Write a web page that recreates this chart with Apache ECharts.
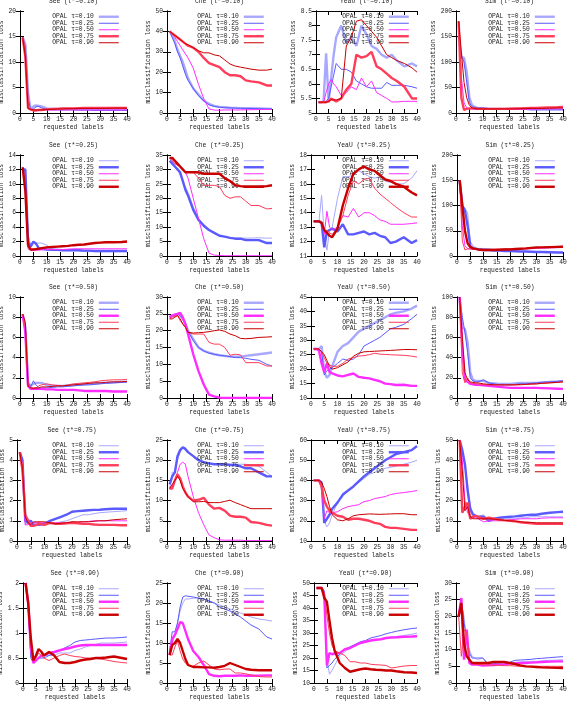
<!DOCTYPE html>
<html><head><meta charset="utf-8">
<script src="https://cdn.jsdelivr.net/npm/echarts@6/dist/echarts.min.js"></script>
<style>html,body{margin:0;padding:0;background:#fff}#c{width:568px;height:703px}</style>
</head><body><div id="c"></div>
<script>
// requested labels at which values were read
const X = [1,2,3,4,5,6,7,8,10,12,14,16,18,20,22,24,26,28,30,32,35,38,40];
const DATASETS = ['See','Che','YeaU','Sim'];
const TAUS = ['0.10','0.25','0.50','0.75','0.90'];
const X_RANGE = [0,40,5];
// y axis [min,max,interval] for each row (tau*) and column (dataset)
const Y_SEE  = [[0,20,5],[0,14,2],[0,10,2],[0,5,1],[0,2,0.5]];
const Y_CHE  = [[0,50,10],[0,35,5],[0,30,5],[0,25,5],[0,25,5]];
const Y_YEAU = [[5,8.5,0.5],[11,18,1],[10,45,5],[10,60,10],[10,50,5]];
const Y_SIM  = [[0,200,50],[0,200,50],[0,100,20],[0,50,10],[0,30,5]];

// ---- tau* = 0.10 ----  rows: OPAL tau = 0.10, 0.25, 0.50, 0.75, 0.90
const SEE_010 = [
 [14.8,13.5,4,0.6,1.3,1.5,1.4,1.3, 0.9,0.8,0.8,0.8,0.8,0.8, 0.8,0.8,0.8,0.8,0.8,0.8, 0.75,0.75,0.75],
 [14.8,13,3,0.6,0.8,1.2,1.3,1.0, 0.7,0.6,0.6,0.6,0.6,0.6, 0.55,0.55,0.55,0.5,0.5,0.5, 0.5,0.5,0.5],
 [14.8,11,1,0.6,0.6,0.6,0.6,0.6, 0.6,0.6,0.6,0.6,0.6,0.6, 0.6,0.6,0.6,0.6,0.6,0.6, 0.6,0.6,0.6],
 [14.8,11,1.0,0.7,0.5,0.5,0.6,0.6, 0.7,0.8,0.8,0.9,0.9,0.9, 0.95,1.0,1.0,1.0,1.0,1.0, 1.0,1.0,1.0],
 [14.8,11,0.9,0.7,0.6,0.6,0.6,0.6, 0.7,0.7,0.8,0.8,0.85,0.85, 0.9,0.9,0.9,0.9,0.9,0.9, 0.95,0.95,0.95]];
const CHE_010 = [
 [40,38,35,31,28,25,21,17, 12,9,6,4.5,3.5,3, 2.8,2.6,2.5,2.4,2.3,2.3, 2.2,2.1,2],
 [40,37,34,30,27,23,19,16, 12,8.5,6,4,3.2,2.8, 2.6,2.5,2.4,2.3,2.2,2.2, 2.1,2,2],
 [40,39,37,35,33,31,29,27, 22,14,7,2,1.4,1.4, 1.5,1.5,1.5,1.5,1.6,1.6, 1.7,1.7,1.8],
 [40,39,38,37,36,35,34,33, 32,30,27,24.5,23.5,22.5, 20,18.5,18.5,18,16,15.5, 15,13.5,13.5],
 [40,39,38,37,36,35,34,33.5, 32,30.5,29.5,29.5,28.5,28, 26,24,23,22.5,22,21.5, 21,21,21.5]];
const YEAU_010 = [
 [5.37,5.37,5.4,7.05,5.4,6.2,7.0,7.6, 8.0,7.4,7.6,7.3,8.0,7.7, 7.3,7.2,7.0,6.9,7.0,6.8, 6.6,6.7,6.6],
 [5.37,5.37,5.37,5.4,5.5,5.9,6.3,6.7, 6.5,6.5,6.4,6.1,6.0,5.9, 5.85,5.85,5.85,6.05,5.95,5.95, 5.95,5.9,5.85],
 [5.37,5.37,5.37,5.7,6.0,6.15,6.0,5.9, 5.6,5.7,5.9,5.8,6.2,5.9, 6.1,5.7,5.6,5.5,5.38,5.38, 5.4,5.4,5.4],
 [5.37,5.37,5.37,5.37,5.4,5.5,5.45,5.4, 5.5,5.8,6.0,7.0,6.9,6.95, 7.1,6.6,6.5,6.35,6.2,6.1, 5.9,5.5,5.5],
 [5.37,5.37,5.37,5.37,5.4,5.45,5.45,5.45, 5.5,7.3,7.6,8.15,8.2,8.0, 7.8,7.6,7.3,7.0,6.9,6.8, 6.7,6.55,6.4]];
const SIM_010 = [
 [150,110,108,80,30,15,12,10, 9,8,8,8,8,8, 8,8,8,8,8,8, 8,8,8],
 [150,112,100,60,20,12,11,10, 10,9,8,8,7,7, 7,7,7,6,6,6, 6,6,6],
 [180,70,20,10,8,8,7,7, 7,7,7,7,7,7, 7,7,7,7.5,7.5,8, 8,8,8],
 [180,30,6,8,9,9,9,8, 8,8,8,8,8,8.5, 9,9,9.5,10,10,10.5, 11,11.5,12],
 [180,120,60,30,15,10,9,8, 8,8,8,8,8,8, 8,8.5,8.5,9,9,9, 9.5,10,10]];

// ---- tau* = 0.25 ----
const SEE_025 = [
 [12.3,11.5,3,1.5,1.8,1.8,1.8,1.8, 1.5,1.0,0.9,0.85,0.8,0.8, 0.7,0.6,0.6,0.6,0.6,0.6, 0.6,0.6,0.6],
 [12,12,2,1.3,2.0,1.7,1.1,1.0, 0.9,0.85,0.85,0.8,0.8,0.8, 0.8,0.75,0.75,0.7,0.7,0.7, 0.7,0.7,0.7],
 [12.3,10,1.0,0.8,0.8,0.8,0.8,0.85, 0.9,0.9,0.9,0.9,0.95,1.0, 1.0,1.0,1.0,1.0,1.0,1.0, 1.0,1.0,1.0],
 [12.3,9,1.2,0.9,0.9,0.9,1.0,1.0, 1.2,1.25,1.3,1.35,1.4,1.5, 1.55,1.6,1.7,1.8,1.85,1.9, 1.9,1.9,1.9],
 [12.3,9,1.5,0.9,0.9,0.95,1.0,1.1, 1.2,1.25,1.3,1.35,1.4,1.5, 1.55,1.6,1.7,1.8,1.85,1.9, 1.9,1.95,2.0]];
const CHE_025 = [
 [34,32,31,30,28,26,24,22, 17,13,11,9,8,7, 6.6,6.4,6.2,6.2,6.2,6.2, 6.3,6.2,6.2],
 [33,32,31,30,29,26,23,21, 16,12.5,10.5,9,8,7, 6.7,6.3,6,6,5.5,5.5, 5.5,4.5,4.5],
 [34,33,32,31.5,31,30,29,27, 20,13,6,1,0.3,0.2, 0.1,0.1,0.1,0.1,0.1,0.1, 0.1,0.1,0.1],
 [34,33,32,31.5,31,30,29,29, 29,27,24.5,24.5,24.5,24, 21,20,20.5,20.5,19,17.5, 17.5,16.3,16.5],
 [34,34,33,32,31,30,29,29, 29,29,28.5,28.5,28.5,28.5, 27,26,24.5,24.2,24,24, 24,24.2,24.5]];
const YEAU_025 = [
 [13.4,13.4,13.4,15.2,12.5,11.4,12.8,13.0, 15,16.5,16.5,16.6,16.9,16.7, 16.5,16.4,16.5,16.2,16.1,16.0, 16.0,16.4,16.9],
 [13.4,13.4,13.4,13.3,11.6,12.7,12.8,12.9, 12.7,13.2,12.5,12.5,12.6,12.7, 12.5,12.6,12.4,12.3,11.9,12.0, 12.3,11.9,12.1],
 [13.4,13.4,13.4,13.4,12.5,14.1,13.0,12.8, 13.0,13.8,13.7,14.3,13.7,14.0, 14.0,13.8,13.5,13.4,13.2,13.2, 13.2,13.25,13.3],
 [13.4,13.4,13.4,13.2,12.7,12.8,12.6,12.5, 12.9,13.8,15.2,16.2,16.0,16.3, 16.4,15.7,15.3,15.0,14.7,14.4, 14.0,13.7,13.7],
 [13.4,13.4,13.4,13.3,12.8,12.6,12.4,12.3, 12.9,14.5,15.7,16.7,17.0,17.2, 17.0,16.9,16.6,16.3,16.2,16.0, 15.8,15.4,15.2]];
const SIM_025 = [
 [150,100,95,85,30,20,17,15, 15,14,13,12,11,10, 10,9,9,8.5,8,8, 7.5,7,7],
 [150,100,90,60,20,15,14,13, 12,12,11,11,10,10, 9.5,9,9,8.5,8,8, 7.5,7,7],
 [150,60,20,15,14,13,13,13, 12,12,12,12.5,13,13, 13.5,14,14,14.5,15,15.5, 16,16.5,17],
 [150,30,12,14,14,14,13,13, 13,13,13.5,13.5,14,14, 14.5,15,15,15.5,16,17, 18,19,20],
 [150,100,50,25,18,15,14,13, 12,12,12,12.5,13,13, 14,14.5,15,16,17,17, 17.5,18,18]];

// ---- tau* = 0.50 ----
const SEE_050 = [
 [8.3,7,1.5,1.2,1.4,1.5,1.5,1.5, 1.3,1.2,1.2,1.2,1.25,1.3, 1.3,1.35,1.4,1.45,1.5,1.5, 1.55,1.6,1.6],
 [8.3,6.5,1.5,1.1,1.7,1.3,1.0,1.0, 1.0,1.05,1.1,1.1,1.15,1.2, 1.25,1.3,1.3,1.35,1.4,1.45, 1.5,1.55,1.6],
 [8.3,6.5,1.2,0.9,0.9,0.9,0.9,0.9, 0.85,0.85,0.8,0.8,0.8,0.8, 0.75,0.7,0.7,0.7,0.7,0.7, 0.65,0.65,0.65],
 [8.3,7,1.2,1.0,1.0,1.0,1.2,1.3, 1.4,1.3,1.25,1.2,1.3,1.4, 1.45,1.5,1.55,1.6,1.7,1.75, 1.8,1.8,1.85],
 [8.3,7.5,1.2,1.0,0.95,1.0,1.0,1.1, 1.1,1.15,1.2,1.2,1.25,1.3, 1.35,1.4,1.45,1.5,1.5,1.55, 1.6,1.6,1.65]];
const CHE_050 = [
 [24,24.5,24.5,25,24.5,23.5,22,20, 17.5,15,14,13.5,13,12.7, 12.5,12.3,12.3,12.3,12.5,12.7, 13,13.3,13.5],
 [24,24.5,24.5,25,24.5,23.5,22,20, 17,15,14,13.3,13,12.7, 12.5,12.3,12,12,11.8,11.5, 11.2,10,9.5],
 [24,24.5,24.8,25,25.3,24,22,19, 13,8,4,1,0.5,0.1, 0,0,0,0,0,0, 0,0,0],
 [23.5,24,24.3,24.5,23,22,21,19.5, 19,19,19,16.5,16,16, 15,12.7,13,12.8,10.5,10.5, 10.5,9.5,9.5],
 [23.5,23.5,24,24.5,23.5,22,21,19.5, 19.3,19.4,19.5,19.7,20,20.2, 19.8,19,18.5,17.7,17.6,17.7, 18,18.1,18.2]];
const YEAU_050 = [
 [27,27,27,28,19,17,18,21, 26,28,29,31,33,34, 35,36,37,38,39,39.5, 40,41,42],
 [27,27,27,26,18,19.5,20,20.5, 22,23.5,23,23.5,25,28, 29,30,31,32.5,34,34.5, 35.5,37.5,39],
 [27,27,26.5,22,19,22,19,18.5, 17.8,17.5,18,18.5,17.3,17, 16.8,16.3,15.8,15,14.8,14.5, 14.6,14.2,14.2],
 [27,27,27,26,24,22,21.5,21, 21,22,23.5,24,24.5,24.7, 25,25.5,25.2,25.1,25,24.9, 24.8,24.5,24.2],
 [27,27,27,26,25,23,21,20, 20.5,21.5,22.5,24.5,25.5,26, 26.1,26.2,26.3,26.4,26.5,26.6, 26.8,26.8,26.7]];
const SIM_050 = [
 [100,70,68,55,25,18,17,17, 17,15,14.5,14,14,14, 14.5,15,15,15,15,15.5, 16,16.5,17],
 [100,80,65,45,20,17,16,16, 18,15,14,13,13,13, 13.5,14,14,14.5,15,15.5, 16,16.5,17],
 [100,50,18,16,14,13.5,13,13, 12.5,12,11.5,11,10.5,10, 10,10,10,10,10,9.8, 9.5,9.2,9],
 [100,25,15,20,15,14.5,14,14, 13,13,13,13,13,13, 13,13,13.5,13.5,14,14.5, 15,15.5,16],
 [100,60,25,18,16,15.5,15,15, 14,13.5,13,13,13,13, 13,13.5,13.5,14,14,14.5, 15,15.5,16]];

// ---- tau* = 0.75 ----
const SEE_075 = [
 [4.4,4.0,0.8,1.1,1.0,0.9,0.9,0.9, 0.8,0.9,0.9,0.95,1.0,1.1, 1.2,1.3,1.3,1.35,1.4,1.42, 1.45,1.48,1.5],
 [4.4,4.0,1.0,0.9,1.0,0.8,0.8,0.8, 0.85,1.0,1.1,1.2,1.3,1.45, 1.48,1.5,1.52,1.54,1.55,1.57, 1.6,1.6,1.6],
 [4.4,3.8,0.8,0.8,0.9,0.9,0.9,0.9, 0.9,0.9,0.9,0.9,0.9,0.9, 0.92,0.95,0.97,1.0,1.0,1.0, 1.0,1.0,1.0],
 [4.4,3.5,1.3,1.0,0.75,0.75,0.8,0.85, 0.8,0.9,0.85,0.85,0.88,0.9, 0.88,0.85,0.85,0.82,0.8,0.8, 0.8,0.78,0.78],
 [4.4,3.6,1.2,0.9,0.8,0.95,0.95,0.95, 0.95,0.9,0.85,0.88,0.9,0.95, 0.95,0.95,0.95,0.98,1.0,1.0, 1.05,1.08,1.1]];
const CHE_075 = [
 [13,17,17,20,22,23,22.5,22, 21,20,19.5,19.3,19.1,19, 19,19,19,19,19,18.8, 18.5,17,16],
 [14,16,17,21,22.5,23.2,22.8,22, 21,20,19.5,19.2,19,19, 19,18.8,18.8,18.5,18,18, 17,16,16],
 [13,14,15,17,19,19.5,19,16, 11,7,4,1.5,0.8,0.3, 0.2,0.2,0.2,0.2,0.1,0.1, 0.1,0.1,0.1],
 [13,13,15,16.5,15.5,13.5,12,11, 10,10.2,10.7,9,8,8.2, 7.5,6.3,6,6,5.8,4.7, 4.5,4.0,3.8],
 [13,14,15,16,15,13,12,11, 9.7,9.7,9.8,9.5,9.5,9.5, 9.8,10.1,9.5,9,8.5,8, 8,8,8]];
const YEAU_075 = [
 [40,40,40,38,20,17,19,23, 29,32,35,37,39,41, 43,44,45,46,46.5,47, 48,49,50],
 [40,40,40,39,19,21,23,26, 29,33,35,37,39.5,42, 44,46,48,50,51.5,53, 54,55,57],
 [40,40,40,37,21,25,24,24, 24.5,26,27,27.5,28,29.5, 30,31,31.5,32,33,33.5, 34,34.5,35],
 [40,40,40,37,30,27,25,24, 22.5,22,20.5,21,21,20.5, 20,19,18.5,17,16.5,16.5, 16,15.5,15.5],
 [40,40,40,39,36,32,27,23, 20.5,20,21,22.5,23,23.2, 23.4,23.3,23.2,23.3,23.4,23.5, 23.5,23,23]];
const SIM_075 = [
 [50,42,37,28,17,14,13,12, 13,10,10.5,11,11,11, 11,11.5,11.5,12,12,12, 12,12,12],
 [50,45,38,25,16,13,12.5,12, 12,10,11,11.5,11.8,12, 12.2,12.5,12.8,13,13,13.5, 14,14.3,14.5],
 [50,40,20,14,12,12,11.5,11, 9.5,10,10,10,10.2,10.5, 10.7,11,11,11,11,11.3, 11.5,11.5,11.5],
 [50,14,17,19,11,12,12.5,12, 11,11.5,11,10.5,10.2,10, 9.7,9.3,9,8.8,8.5,8.5, 8.5,8.5,8.5],
 [50,35,15,17,12,11,11,11, 11,11,10.8,10.5,10.2,10, 9.8,9.5,9.3,9.2,9,9, 9,9,9]];

// ---- tau* = 0.90 ----
const SEE_090 = [
 [2.0,1.5,0.6,0.45,0.48,0.5,0.52,0.55, 0.55,0.55,0.6,0.6,0.6,0.65, 0.68,0.72,0.75,0.77,0.8,0.8, 0.8,0.81,0.82],
 [2.0,1.5,0.5,0.4,0.45,0.5,0.5,0.5, 0.55,0.6,0.65,0.7,0.75,0.82, 0.85,0.86,0.87,0.88,0.89,0.9, 0.9,0.91,0.92],
 [2.0,1.6,0.7,0.4,0.45,0.5,0.55,0.55, 0.6,0.62,0.65,0.68,0.7,0.73, 0.75,0.76,0.76,0.76,0.76,0.76, 0.76,0.76,0.76],
 [2.0,1.6,0.8,0.5,0.5,0.6,0.55,0.5, 0.45,0.5,0.55,0.58,0.55,0.53, 0.52,0.5,0.5,0.49,0.48,0.46, 0.43,0.41,0.4],
 [2.0,1.6,0.9,0.45,0.55,0.68,0.63,0.55, 0.62,0.55,0.42,0.4,0.4,0.42, 0.45,0.47,0.48,0.5,0.5,0.51, 0.53,0.5,0.48]];
const CHE_090 = [
 [9,10,12,15,18,20,21,21, 21.2,21.3,21,20.5,20,19.5, 19,18.5,18,17.5,17,16.5, 16,15.7,15.5],
 [8,12.8,12.8,15,19,21.5,21.8,21.7, 21.5,21.2,21,20.5,20,19, 18.5,18,17.3,16.5,15.5,14.5, 13.5,11.5,11],
 [7,11,12,13.5,15.2,15,13,11, 8,6.5,4.5,2.2,1.8,1.7, 1.8,1.8,1.8,1.9,1.8,1.8, 1.8,1.9,1.9],
 [7,7,9,10.5,8,6,5,4.5, 4.2,5,5.5,4.5,3.5,3.3, 3.5,3.5,2.5,2.5,2.3,2, 1.6,1.5,1.5],
 [7,9.5,10,11,10,8,6,4.5, 4,4,3.9,3.9,3.8,4, 4.3,5,4.5,4,3.5,3.3, 3.2,3.2,3.2]];
const YEAU_090 = [
 [48,48,48,46,20,13.5,15,17, 21,22.5,24,25,26,26.5, 27,27.3,27.5,28,28.3,28.5, 29,29.5,30],
 [48,48,48,47,16,17,18,19.5, 21.5,23.5,24.5,25.5,26.5,27, 28,28.5,29,29.7,30.2,30.7, 31.3,31.8,32],
 [48,48,48,45,17,22,21.5,21.8, 22,23.5,24,25,26,26.5, 27,27.3,27.5,28,28.2,28.3, 28.5,28.6,28.7],
 [48,48,48,46,37,30,25,23, 22,21,18.5,18.5,18,18, 17.5,17.3,17.2,17,16,16.3, 16.8,17,17],
 [48,48,48,44,42.5,35,28,23, 18,16,14.5,15,15.5,15.8, 15.5,15.3,15.2,15,15,14.7, 14.3,14.2,14]];
const SIM_090 = [
 [20,24,20,12,10,8,7.5,7, 7.5,6,6,6,6,6, 6.2,6.3,6.5,6.5,6.5,6.6, 6.8,6.9,7],
 [20,25,18,14,9,7.5,7.5,7.5, 7.5,5.5,5.8,6,6.1,6.2, 6.8,6.9,7,7.1,7.3,7.4, 7.6,7.8,7.9],
 [20,25.5,7,16,6,5.5,5.5,5.5, 5.2,5.3,5.4,5.5,5.6,5.8, 5.9,6,6,6.1,6.2,6.3, 6.4,6.5,6.5],
 [20,8,16,15,7,6,5.7,5.5, 5.5,5.4,5.3,5.3,5.2,5.2, 5.1,5,5,5,5,5, 5,5,5],
 [20,24,12,8,7,6,6,6, 6,6,6.3,6.3,6.3,6, 5.7,5.3,5,4.9,4.8,4.7, 4.6,4.55,4.5]];

const PANELS = [
 [SEE_010, CHE_010, YEAU_010, SIM_010],
 [SEE_025, CHE_025, YEAU_025, SIM_025],
 [SEE_050, CHE_050, YEAU_050, SIM_050],
 [SEE_075, CHE_075, YEAU_075, SIM_075],
 [SEE_090, CHE_090, YEAU_090, SIM_090]];
const YAX = [Y_SEE, Y_CHE, Y_YEAU, Y_SIM];

// ---- layout & style ----
const W = 568;
const ROW_T = [11,155,297,440,583];
const ROW_B = [113,256,398,541,683];
const LEFT = [[20,167,316,456],[20,167,311,457],[20,167,311,457],[17,167,311,457],[23,167,314,456]];
const RIGHT = [127,272,417,563];
const YNAME_X = [3.3,148.3,295.7,440.3];
const COLORS = ['#a8a8ff','#5a5aff','#ff2cff','#ff3c5a','#c80000'];
const THICK = [[0,3],[1,4],[0,2],[1,3],[2,4]];
const FONT = 'Liberation Mono, DejaVu Sans Mono, monospace';
const FS = 6.3;
const TXT = '#222';
const txt = {fontSize:FS, fontFamily:FONT, color:TXT};

const option = {animation:false, backgroundColor:'#fff', title:[], legend:[], grid:[], xAxis:[], yAxis:[], series:[]};
const axLine = {show:true, lineStyle:{color:'#000', width:1}};
const axTick = {show:true, inside:true, length:4, lineStyle:{color:'#000', width:1}};

for (let r = 0; r < 5; r++) {
  for (let c = 0; c < 4; c++) {
    const g = r*4 + c;
    const L = LEFT[r][c], R = RIGHT[c], T = ROW_T[r], B = ROW_B[r];
    const [ymin, ymax, yint] = YAX[c][r];
    option.grid.push({left:L, top:T, width:R-L, height:B-T, outerBoundsMode:'none', containLabel:false});
    option.title.push({text:DATASETS[c] + ' (\u03c4*=' + TAUS[r] + ')', left:(L+R)/2, top:T-13, textAlign:'center', padding:0,
      textStyle:Object.assign({fontWeight:'normal'}, txt)});
    option.xAxis.push({gridIndex:g, type:'value', min:X_RANGE[0], max:X_RANGE[1], interval:X_RANGE[2], position:'bottom',
      axisLine:axLine, axisTick:axTick, splitLine:{show:false},
      axisLabel:Object.assign({margin:3}, txt),
      name:'requested labels', nameLocation:'middle', nameGap:11.5, nameTextStyle:txt});
    option.xAxis.push({gridIndex:g, type:'value', min:X_RANGE[0], max:X_RANGE[1], interval:X_RANGE[2], position:'top',
      axisLine:axLine, axisTick:axTick, splitLine:{show:false}, axisLabel:{show:false}});
    option.yAxis.push({gridIndex:g, type:'value', min:ymin, max:ymax, interval:yint, position:'left',
      axisLine:axLine, axisTick:axTick, splitLine:{show:false},
      axisLabel:Object.assign({margin:4}, txt),
      name:'misclassification loss', nameLocation:'middle', nameGap:L - YNAME_X[c] - 3.5, nameRotate:90, nameTextStyle:txt});
    option.yAxis.push({gridIndex:g, type:'value', min:ymin, max:ymax, interval:yint, position:'right',
      axisLine:axLine, axisTick:axTick, splitLine:{show:false}, axisLabel:{show:false}});
    const names = [];
    const vals = PANELS[r][c];
    for (let k = 0; k < 5; k++) {
      const nm = g + '|OPAL \u03c4=' + TAUS[k];
      names.push(nm);
      const thick = THICK[r].includes(k);
      option.series.push({type:'line', name:nm, xAxisIndex:2*g, yAxisIndex:2*g, symbol:'none', silent:true,
        data:X.map((x,i) => [x, vals[k][i]]),
        lineStyle:{color:COLORS[k], width:thick ? 2.4 : 1},
        itemStyle:{color:COLORS[k]}, z:2+k});
    }
    option.legend.push({data:names, orient:'vertical', align:'right', right:W - R + 7, top:T + 2.5,
      itemWidth:20, itemHeight:6.5, itemGap:0, padding:0, selectedMode:false,
      itemStyle:{opacity:0}, lineStyle:{width:'inherit'},
      formatter:(n) => n.split('|')[1],
      textStyle:Object.assign({lineHeight:6.5}, txt)});
  }
}
const chart = echarts.init(document.getElementById('c'), null, {renderer:'canvas'});
chart.setOption(option);
</script></body></html>
